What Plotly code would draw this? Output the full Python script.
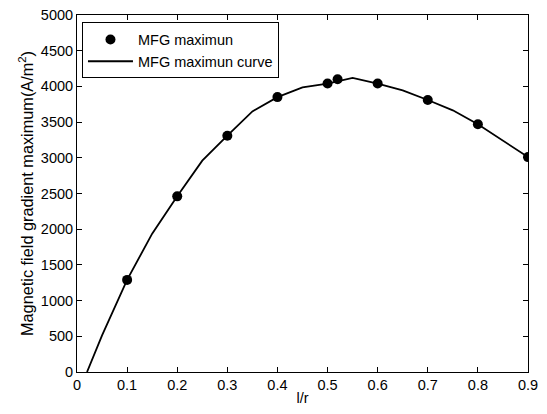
import plotly.graph_objects as go

# Measured points (markers)
x_points = [0.1, 0.2, 0.3, 0.4, 0.5, 0.52, 0.6, 0.7, 0.8, 0.9]
y_points = [1290, 2460, 3310, 3850, 4040, 4100, 4040, 3810, 3470, 3010]

# Fitted curve (piecewise)
x_curve = [0.02, 0.05, 0.1, 0.15, 0.2, 0.25, 0.3, 0.35, 0.4, 0.45, 0.5, 0.55,
           0.6, 0.65, 0.7, 0.75, 0.8, 0.85, 0.9]
y_curve = [0, 514, 1290, 1938, 2460, 2960, 3310, 3650, 3850, 3985, 4040, 4120,
           4040, 3945, 3810, 3665, 3470, 3240, 3010]

x_ticks = [0, 0.1, 0.2, 0.3, 0.4, 0.5, 0.6, 0.7, 0.8, 0.9]
x_tick_text = ["0", "0.1", "0.2", "0.3", "0.4", "0.5", "0.6", "0.7", "0.8", "0.9"]
y_ticks = [0, 500, 1000, 1500, 2000, 2500, 3000, 3500, 4000, 4500, 5000]

FONT = "Liberation Sans, Arial, Helvetica, sans-serif"

fig = go.Figure()
fig.add_trace(go.Scatter(
    x=x_points, y=y_points, mode="markers", name="MFG maximun",
    marker=dict(color="black", size=10, symbol="circle"),
))
fig.add_trace(go.Scatter(
    x=x_curve, y=y_curve, mode="lines", name="MFG maximun curve",
    line=dict(color="black", width=1.8),
))

axis_common = dict(
    showline=True, linecolor="black", linewidth=1, mirror="ticks",
    ticks="inside", ticklen=5, tickwidth=1, tickcolor="black",
    showgrid=False, zeroline=False, automargin=False,
    tickfont=dict(family=FONT, size=14.5, color="black"),
)

fig.update_layout(
    width=547, height=414,
    margin=dict(l=77, r=19, t=15, b=42),
    paper_bgcolor="white", plot_bgcolor="white",
    font=dict(family=FONT, color="black"),
    showlegend=True,
    legend=dict(
        x=0.011, y=0.979, xanchor="left", yanchor="top",
        bordercolor="black", borderwidth=1, bgcolor="white",
        font=dict(family=FONT, size=14.5, color="black"),
        tracegroupgap=0, itemwidth=45,
    ),
    xaxis=dict(
        range=[0, 0.9], tickvals=x_ticks, ticktext=x_tick_text,
        title=dict(text="l/r", font=dict(family=FONT, size=14.5), standoff=0),
        **axis_common,
    ),
    yaxis=dict(
        range=[0, 5000], tickvals=y_ticks,
        title=dict(text="Magnetic field gradient maximum(A/m<sup>2</sup>)",
                   font=dict(family=FONT, size=16.3), standoff=3),
        **axis_common,
    ),
)

# remove the browser's default body margin so the figure sits at the window origin
fig.write_html("out.html", post_script="document.body.style.margin='0';",
               config={"displayModeBar": False})
